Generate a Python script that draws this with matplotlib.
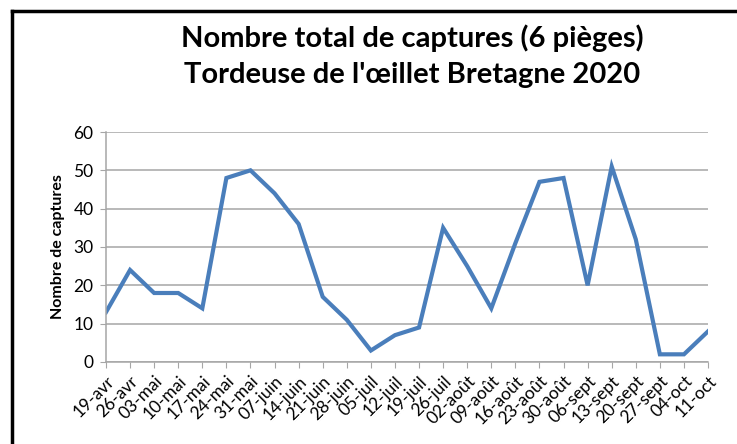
import matplotlib.pyplot as plt
from matplotlib.lines import Line2D

plt.rcParams['font.family'] = ['Lato', 'DejaVu Sans']

dates = ['19-avr', '26-avr', '03-mai', '10-mai', '17-mai', '24-mai', '31-mai',
         '07-juin', '14-juin', '21-juin', '28-juin', '05-juil', '12-juil',
         '19-juil', '26-juil', '02-août', '09-août', '16-août', '23-août',
         '30-août', '06-sept', '13-sept', '20-sept', '27-sept', '04-oct', '11-oct']
captures = [13, 24, 18, 18, 14, 48, 50, 44, 36, 17, 11, 3, 7, 9,
            35, 25, 14, 31, 47, 48, 20, 51, 32, 2, 2, 8]

fig = plt.figure(figsize=(7.37, 4.44), dpi=100)
ax = fig.add_axes([0.1438, 0.1847, 0.8169, 0.518])

x = list(range(len(dates)))
ax.plot(x, captures, color='#4a7ebb', lw=3, solid_joinstyle='miter')

ax.set_xlim(0, len(dates) - 1)
ax.set_ylim(0, 60)
ax.set_yticks(range(0, 61, 10))
ax.grid(axis='y', color='#a6a6a6', lw=1.1)
ax.set_axisbelow(True)
for s in ['top', 'right']:
    ax.spines[s].set_visible(False)
for s in ['left', 'bottom']:
    ax.spines[s].set_color('#a6a6a6')
    ax.spines[s].set_linewidth(1.1)

ax.set_xticks(x)
ax.set_xticklabels(dates, rotation=45, ha='right', rotation_mode='anchor')
ax.tick_params(axis='x', length=4, color='#a6a6a6', labelsize=12.5, pad=4)
ax.tick_params(axis='y', length=4, color='#a6a6a6', labelsize=12.5, pad=5)

ax.set_ylabel('Nombre de captures', fontsize=11.5, fontweight='bold', labelpad=6)

fig.text(0.559, 0.915, "Nombre total de captures (6 pièges)", ha='center', va='center',
         fontsize=21, fontweight='bold')
fig.text(0.559, 0.831, "Tordeuse de l'œillet Bretagne 2020", ha='center', va='center',
         fontsize=21, fontweight='bold')

# cadre noir (gauche et haut)
fig.add_artist(Line2D([12 / 737, 12 / 737], [0, 1 - 11 / 444], color='black', lw=2.5,
                      transform=fig.transFigure))
fig.add_artist(Line2D([12 / 737, 1], [1 - 11 / 444, 1 - 11 / 444], color='black', lw=2.5,
                      transform=fig.transFigure))

fig.savefig('out.png', dpi=100)
